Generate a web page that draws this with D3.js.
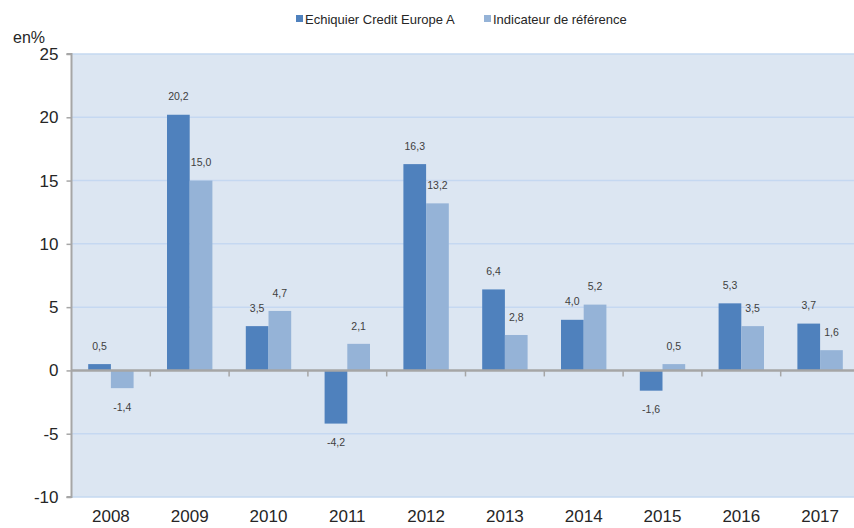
<!DOCTYPE html>
<html>
<head>
<meta charset="utf-8">
<script src="https://cdn.jsdelivr.net/npm/d3@7"></script>
<style>
html,body{margin:0;padding:0;background:#fff;}
svg{display:block;font-family:"Liberation Sans",Arial,sans-serif;}
</style>
</head>
<body>
<svg id="chart" width="854" height="528"></svg>
<script>
const years = ["2008","2009","2010","2011","2012","2013","2014","2015","2016","2017"];
const fund = [0.5, 20.2, 3.5, -4.2, 16.3, 6.4, 4.0, -1.6, 5.3, 3.7];
const bench = [-1.4, 15.0, 4.7, 2.1, 13.2, 2.8, 5.2, 0.5, 3.5, 1.6];
const seriesNames = ["Echiquier Credit Europe A", "Indicateur de référence"];
const yTicks = [-10, -5, 0, 5, 10, 15, 20, 25];
const colors = ["#4F81BD", "#95B3D7"];

const svg = d3.select("#chart");
const plot = {left: 71.5, right: 854, top: 54, bottom: 497};

const y = d3.scaleLinear().domain([-10, 25]).range([plot.bottom, plot.top]);
const x = d3.scaleBand().domain(years).range([71.5, 859.5]).padding(0);
const bw = x.bandwidth();
const inner = d3.scaleBand().domain([0,1]).range([0, 45.4]);
const off = (bw - 45.4) / 2;

// background
svg.append("rect").attr("x", plot.left).attr("y", plot.top)
  .attr("width", plot.right - plot.left).attr("height", plot.bottom - plot.top)
  .attr("fill", "#DCE6F2");

// gridlines
svg.append("g").selectAll("line").data(yTicks.filter(d => d !== 0)).join("line")
  .attr("x1", plot.left).attr("x2", plot.right)
  .attr("y1", d => y(d)).attr("y2", d => y(d))
  .attr("stroke", "#C5D8F1").attr("stroke-width", 1.5);

// y axis
const yAxis = d3.axisLeft(y).tickValues(yTicks).tickSize(5).tickPadding(8)
  .tickFormat(d => d3.format("d")(d).replace("−", "-"));
const gy = svg.append("g").attr("transform", `translate(${plot.left},0)`).call(yAxis);
gy.select(".domain").attr("stroke", "#A6A6A6").attr("stroke-width", 2).attr("d", `M-5,${plot.top}H0V${plot.bottom}H-5`);
gy.selectAll(".tick line").attr("stroke", "#A6A6A6").attr("stroke-width", 1.5);
gy.selectAll(".tick text").attr("font-size", 17).attr("fill", "#262626")
  .attr("font-family", "\"Liberation Sans\",Arial,sans-serif");

// bars
const series = [fund, bench];
series.forEach((vals, si) => {
  svg.append("g").selectAll("rect").data(vals).join("rect")
    .attr("x", (d, i) => x(years[i]) + off + inner(si))
    .attr("width", inner.bandwidth())
    .attr("y", d => y(Math.max(0, d)))
    .attr("height", d => Math.abs(y(d) - y(0)))
    .attr("fill", colors[si]);
  svg.append("g").selectAll("text").data(vals).join("text")
    .attr("x", (d, i) => x(years[i]) + off + inner(si) + inner.bandwidth() / 2)
    .attr("y", d => d >= 0 ? y(d) - 18 : y(d) + 19)
    .attr("dy", "0.35em")
    .attr("text-anchor", "middle")
    .attr("font-size", 10.5).attr("fill", "#404040")
    .text(d => d3.format(".1f")(d).replace(".", ",").replace("−", "-"));
});

// zero line
svg.append("line").attr("x1", plot.left).attr("x2", plot.right)
  .attr("y1", y(0)).attr("y2", y(0)).attr("stroke", "#A6A6A6").attr("stroke-width", 2.5);

// category ticks
svg.append("g").selectAll("line").data(years.slice(1)).join("line")
  .attr("x1", d => x(d)).attr("x2", d => x(d))
  .attr("y1", y(0)).attr("y2", y(0) + 6)
  .attr("stroke", "#A6A6A6").attr("stroke-width", 1.5);

// x labels
svg.append("g").selectAll("text").data(years).join("text")
  .attr("x", d => x(d) + bw / 2).attr("y", 522)
  .attr("text-anchor", "middle").attr("font-size", 17).attr("fill", "#262626")
  .text(d => d);

// unit label
svg.append("text").attr("x", 13).attr("y", 43).attr("font-size", 16).attr("fill", "#262626").text("en%");

// legend
const legend = [{x: 296, t: seriesNames[0], c: colors[0]}, {x: 484, t: seriesNames[1], c: colors[1]}];
const lg = svg.append("g").selectAll("g").data(legend).join("g");
lg.append("rect").attr("x", d => d.x).attr("y", 15).attr("width", 7).attr("height", 7).attr("fill", d => d.c);
lg.append("text").attr("x", d => d.x + 9).attr("y", 23.5).attr("font-size", 13).attr("fill", "#262626").text(d => d.t);
</script>
</body>
</html>
